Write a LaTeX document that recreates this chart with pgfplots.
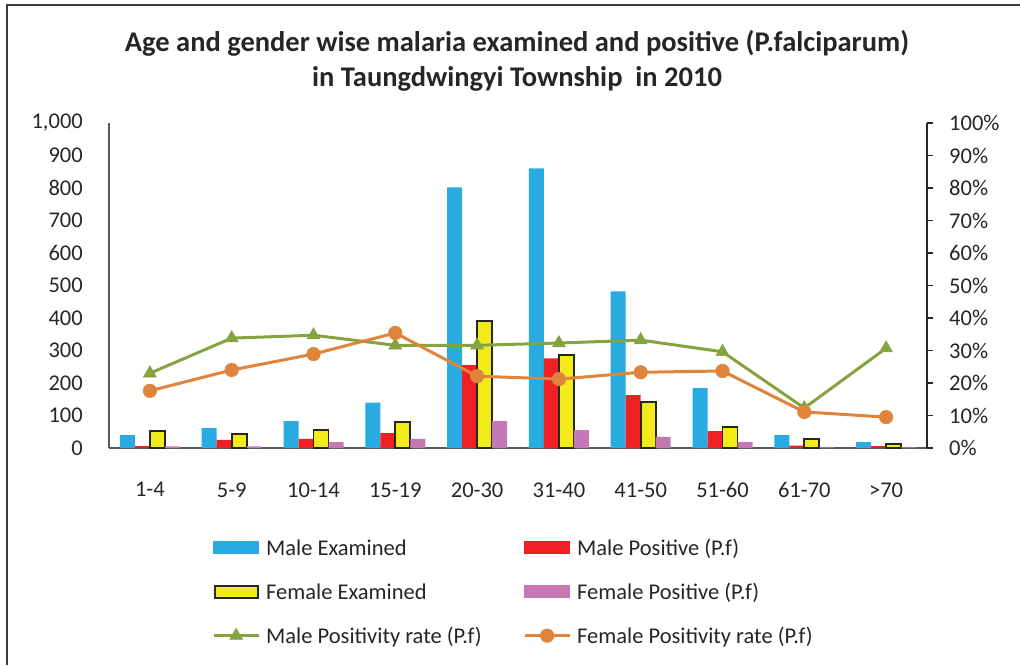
\documentclass[border=0pt]{standalone}
\usepackage{fontspec}
\setmainfont{Carlito}
\usepackage{pgfplots}
\pgfplotsset{compat=1.18}
\definecolor{cblue}{HTML}{29ABE2}
\definecolor{cred}{HTML}{ED2024}
\definecolor{cyellow}{HTML}{F2EA1A}
\definecolor{cpink}{HTML}{C678B4}
\definecolor{cgreen}{HTML}{86A342}
\definecolor{corange}{HTML}{DF843A}
\definecolor{cframe}{HTML}{3A3A3A}
\newcommand\lbl{\fontsize{22.5}{27}\selectfont}
\newcommand\st{\rule[-5pt]{0pt}{22pt}}

\begin{document}
\begin{tikzpicture}[x=1pt,y=1pt]
\useasboundingbox (0,0) rectangle (1020,665);
\draw[line width=2pt, cframe] (7,0) -- (7,660) -- (1020,660);
\node[anchor=base, font=\fontsize{28.5}{34}\selectfont\bfseries, text=black!85] at (517,613)
  {Age and gender wise malaria examined and positive (P.falciparum)};
\node[anchor=base, font=\fontsize{28.5}{34}\selectfont\bfseries, text=black!85] at (517,578)
  {in Taungdwingyi Township\ \ in 2010};

% counts: bars on the left axis
\begin{axis}[
  at={(109pt,217pt)}, anchor=south west, scale only axis,
  width=818pt, height=325pt,
  xmin=-0.5, xmax=9.5, ymin=0, ymax=1000,
  ybar=0pt, bar width=15pt,
  axis x line*=bottom, axis y line*=left,
  axis line style={-, draw=black!65, line width=1.6pt},
  xtick={0,...,9},
  xticklabels={1-4,5-9,10-14,15-19,20-30,31-40,41-50,51-60,61-70,>70},
  ytick={0,100,...,1000},
  yticklabels={0,100,200,300,400,500,600,700,800,900,{1,000}},
  tick style={draw=none},
  tick label style={font=\lbl, inner sep=0pt, text=black!85},
  xticklabel style={yshift=-30pt},
  yticklabel style={xshift=-26pt},
]
\addplot[fill=cblue, draw=none] coordinates {
  (0,40) (1,61) (2,83) (3,140) (4,802) (5,860) (6,482) (7,184) (8,40) (9,18) };
\addplot[fill=cred, draw=none] coordinates {
  (0,6) (1,25) (2,28) (3,46) (4,255) (5,276) (6,163) (7,52) (8,7) (9,6) };
\addplot[fill=cyellow, draw=black!85, line width=1.8pt] coordinates {
  (0,53) (1,43) (2,55) (3,81) (4,390) (5,286) (6,142) (7,65) (8,28) (9,12) };
\addplot[fill=cpink, draw=none] coordinates {
  (0,5) (1,5) (2,18) (3,28) (4,83) (5,55) (6,34) (7,18) (8,2) (9,2) };
\end{axis}

% positivity rates on the right axis
\begin{axis}[
  at={(109pt,217pt)}, anchor=south west, scale only axis,
  width=818pt, height=325pt,
  xmin=-0.5, xmax=9.5, ymin=0, ymax=100,
  axis x line=none, axis y line*=right,
  axis line style={-, draw=black!85, line width=1.8pt},
  ytick={0,10,...,100},
  yticklabels={0\%,10\%,20\%,30\%,40\%,50\%,60\%,70\%,80\%,90\%,100\%},
  tick align=outside, major tick length=6pt,
  ytick style={draw=black!85, line width=1.5pt},
  yticklabel style={font=\lbl, inner sep=0pt, anchor=west, xshift=16pt, text=black!85},
  legend columns=2,
  legend cell align=left,
  legend style={at={(rel axis cs:0.1259,-0.2775)}, anchor=north west,
    draw=none, fill=none, inner sep=0pt, font=\lbl, text=black!85, row sep=25.5pt,
    nodes={inner sep=0pt},
    /tikz/every odd column/.append style={column sep=6pt},
    /tikz/every even column/.append style={column sep=0pt}},
  legend image code/.code={\draw[mark repeat=2,mark phase=2,#1]
    plot coordinates {(0pt,0pt) (22.5pt,0pt) (45pt,0pt)};},
]
\addlegendimage{legend image code/.code={\fill[cblue] (0pt,-6pt) rectangle (45pt,6pt);}}
\addlegendentry{\makebox[257pt][l]{\st Male Examined}}
\addlegendimage{legend image code/.code={\fill[cred] (0pt,-6pt) rectangle (45pt,6pt);}}
\addlegendentry{\st Male Positive (P.f)}
\addlegendimage{legend image code/.code={\filldraw[fill=cyellow, draw=black!85, line width=1.8pt] (1pt,-6pt) rectangle (44pt,6pt);}}
\addlegendentry{\makebox[257pt][l]{\st Female Examined}}
\addlegendimage{legend image code/.code={\fill[cpink] (0pt,-6pt) rectangle (45pt,6pt);}}
\addlegendentry{\st Female Positive (P.f)}
\addplot[cgreen, line width=3pt, mark=triangle*, mark size=7.5pt,
  mark options={solid, line width=0.5pt}] coordinates {
  (0,23.0) (1,33.8) (2,34.7) (3,31.6) (4,31.6) (5,32.3) (6,33.2) (7,29.6) (8,12.3) (9,30.7) };
\addlegendentry{\makebox[257pt][l]{\st Male Positivity rate (P.f)}}
\addplot[corange, line width=3pt, mark=*, mark size=6.8pt,
  mark options={solid, line width=0.5pt}] coordinates {
  (0,17.6) (1,24.0) (2,28.9) (3,35.4) (4,22.1) (5,21.2) (6,23.3) (7,23.7) (8,11.1) (9,9.5) };
\addlegendentry{\st Female Positivity rate (P.f)}
\end{axis}
\end{tikzpicture}
\end{document}
